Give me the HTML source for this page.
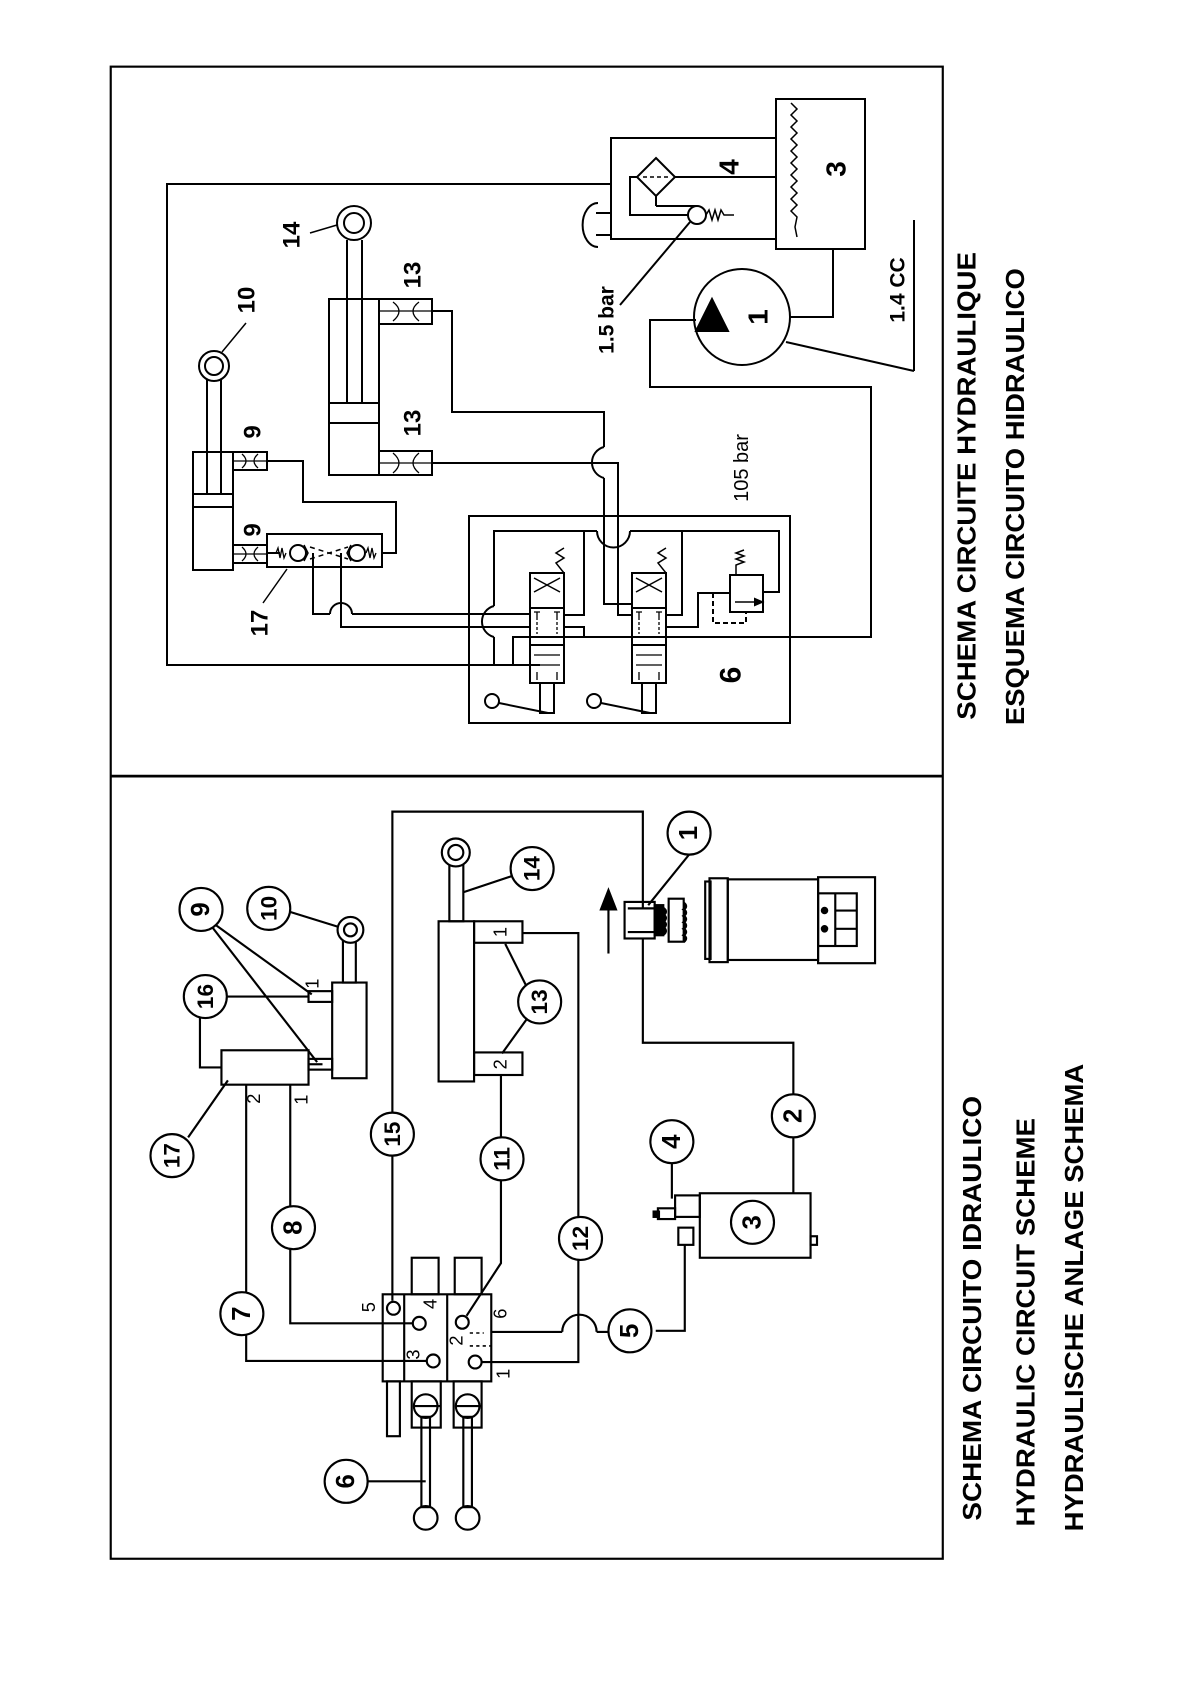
<!DOCTYPE html>
<html><head><meta charset="utf-8"><style>
html,body{margin:0;padding:0;background:#fff;}
svg{display:block;}
text{font-family:"Liberation Sans",sans-serif;}
</style></head><body>
<svg width="1191" height="1684" viewBox="0 0 1191 1684" xmlns="http://www.w3.org/2000/svg" fill="none" stroke="#000" stroke-width="2">
<g transform="scale(1.075)">
  <rect x="103" y="62" width="774" height="1388" stroke-width="2"/>
  <line x1="103" y1="722" x2="877" y2="722" stroke-width="2.5"/>
  <g fill="#000" stroke="none" font-weight="bold" font-size="24">
    <text transform="translate(900,452) rotate(-90)" text-anchor="middle" dominant-baseline="central" textLength="435" lengthAdjust="spacingAndGlyphs">SCHEMA CIRCUITE HYDRAULIQUE</text>
    <text transform="translate(945,462) rotate(-90)" text-anchor="middle" dominant-baseline="central" textLength="425" lengthAdjust="spacingAndGlyphs">ESQUEMA CIRCUITO HIDRAULICO</text>
    <text transform="translate(905,1217) rotate(-90)" text-anchor="middle" dominant-baseline="central" textLength="395" lengthAdjust="spacingAndGlyphs">SCHEMA CIRCUITO IDRAULICO</text>
    <text transform="translate(955,1230) rotate(-90)" text-anchor="middle" dominant-baseline="central" textLength="380" lengthAdjust="spacingAndGlyphs">HYDRAULIC CIRCUIT SCHEME</text>
    <text transform="translate(1000,1207) rotate(-90)" text-anchor="middle" dominant-baseline="central" textLength="435" lengthAdjust="spacingAndGlyphs">HYDRAULISCHE ANLAGE SCHEMA</text>
  </g>
  <polyline points="365,1210 365,755 598,755 598,845"/>
  <polyline points="598,873 598,970 738,970 738,1110"/>
  <rect x="581" y="839" width="28" height="34"/>
  <line x1="584" y1="845" x2="609" y2="845"/><line x1="584" y1="867" x2="609" y2="867"/>
  <rect x="609" y="842" width="8" height="28" fill="#000"/>
  <path d="M617,845 q4,3 0,6 q4,3 0,6 q4,3 0,6 q4,3 0,6" stroke-width="3"/>
  <rect x="622" y="836" width="14" height="40"/>
  <path d="M636,840 q4,3 0,6 q4,3 0,6 q4,3 0,6 q4,3 0,6 q4,3 0,6 q4,3 0,6" stroke-width="2.5"/>
  <rect x="656" y="820" width="5" height="72"/>
  <rect x="660" y="817" width="17" height="78"/>
  <rect x="677" y="818" width="84" height="75"/>
  <rect x="761" y="816" width="53" height="80"/>
  <rect x="761" y="831" width="36" height="49"/>
  <line x1="777" y1="831" x2="777" y2="880"/>
  <line x1="777" y1="847" x2="797" y2="847"/><line x1="777" y1="864" x2="797" y2="864"/>
  <circle cx="767" cy="847" r="2.5" fill="#000"/><circle cx="767" cy="864" r="2.5" fill="#000"/>
  <line x1="566" y1="887" x2="566" y2="845"/>
  <polygon points="566,828 559,846 573,846" fill="#000"/>
  <rect x="651" y="1110" width="103" height="60"/>
  <rect x="754" y="1150" width="6" height="8"/>
  <rect x="628" y="1112" width="23" height="20"/>
  <rect x="612" y="1124" width="16" height="10"/>
  <rect x="608" y="1127" width="5" height="5" fill="#000"/>
  <rect x="631" y="1142" width="14" height="16"/>
  <polyline points="637,1158 637,1238 610,1238"/>
  <line x1="625" y1="1082" x2="625" y2="1115"/>
  <line x1="641" y1="795" x2="603" y2="842"/>
  <rect x="356" y="1204" width="101" height="81"/>
  <line x1="376" y1="1204" x2="376" y2="1285"/><line x1="416" y1="1204" x2="416" y2="1285"/>
  <rect x="383" y="1170" width="25" height="34"/><rect x="423" y="1170" width="25" height="34"/>
  <rect x="383" y="1285" width="27" height="43"/><rect x="422" y="1285" width="26" height="43"/>
  <rect x="360" y="1285" width="12" height="51"/>
  <circle cx="396" cy="1308" r="11"/><circle cx="435" cy="1308" r="11"/>
  <line x1="385" y1="1308" x2="410" y2="1308"/><line x1="424" y1="1308" x2="448" y2="1308"/>
  <rect x="392" y="1318" width="8" height="84"/><rect x="431" y="1318" width="8" height="84"/>
  <circle cx="396" cy="1412" r="11"/><circle cx="435" cy="1412" r="11"/>
  <circle cx="366" cy="1217" r="6"/><circle cx="390" cy="1231" r="6"/><circle cx="403" cy="1266" r="6"/>
  <circle cx="430" cy="1230" r="6"/><circle cx="442" cy="1267" r="6"/>
  <line x1="437" y1="1240" x2="450" y2="1240" stroke-dasharray="3,3" stroke-width="1.5"/>
  <line x1="437" y1="1252" x2="457" y2="1252" stroke-dasharray="3,3" stroke-width="1.5"/>
  <g fill="#000" stroke="none" font-size="17">
    <text transform="translate(343,1216) rotate(-90)" text-anchor="middle" dominant-baseline="central">5</text>
    <text transform="translate(400,1213) rotate(-90)" text-anchor="middle" dominant-baseline="central">4</text>
    <text transform="translate(384,1260) rotate(-90)" text-anchor="middle" dominant-baseline="central">3</text>
    <text transform="translate(424,1247) rotate(-90)" text-anchor="middle" dominant-baseline="central">2</text>
    <text transform="translate(465,1222) rotate(-90)" text-anchor="middle" dominant-baseline="central">6</text>
    <text transform="translate(468,1278) rotate(-90)" text-anchor="middle" dominant-baseline="central">1</text>
    <text transform="translate(236,1022) rotate(-90)" text-anchor="middle" dominant-baseline="central">2</text>
    <text transform="translate(280,1023) rotate(-90)" text-anchor="middle" dominant-baseline="central">1</text>
    <text transform="translate(465,867) rotate(-90)" text-anchor="middle" dominant-baseline="central">1</text>
    <text transform="translate(465,990) rotate(-90)" text-anchor="middle" dominant-baseline="central">2</text>
    <text transform="translate(290,915) rotate(-90)" text-anchor="middle" dominant-baseline="central">1</text>
  </g>
  <polyline points="457,1239 523,1239"/>
  <path d="M523,1239 a16,16 0 0 1 32,0"/>
  <line x1="555" y1="1239" x2="566" y2="1239"/>
  <polyline points="448,1267 538,1267 538,868 486,868"/>
  <polyline points="434,1224 466,1175 466,1000"/>
  <polyline points="384,1231 270,1231 270,1009"/>
  <polyline points="397,1266 229,1266 229,1009"/>
  <rect x="408" y="857" width="33" height="149"/>
  <rect x="441" y="857" width="45" height="20"/><rect x="441" y="979" width="45" height="21"/>
  <rect x="418" y="803" width="13" height="54"/>
  <circle cx="424" cy="793" r="13" fill="#fff"/><circle cx="424" cy="793" r="7"/>
  <rect x="309" y="914" width="32" height="89"/>
  <rect x="319" y="874" width="12" height="40"/>
  <circle cx="326" cy="865" r="12" fill="#fff"/><circle cx="326" cy="865" r="6"/>
  <rect x="287" y="922" width="22" height="10"/><rect x="287" y="985" width="22" height="10"/>
  <rect x="206" y="977" width="81" height="32"/>
  <polyline points="287,990 300,990"/>
  <polyline points="206,993 186,993 186,946"/>
  <line x1="211" y1="927" x2="287" y2="927"/>
  <line x1="200" y1="860" x2="290" y2="925"/>
  <line x1="197" y1="862" x2="295" y2="988"/>
  <line x1="269" y1="848" x2="314" y2="862"/>
  <line x1="175" y1="1058" x2="212" y2="1005"/>
  <line x1="476" y1="815" x2="431" y2="830"/>
  <line x1="490" y1="918" x2="470" y2="878"/>
  <line x1="490" y1="948" x2="467" y2="980"/>
  <line x1="342" y1="1378" x2="396" y2="1378"/>
  <g stroke-width="2">
    <circle cx="641" cy="775" r="20" fill="#fff"/>
    <circle cx="738" cy="1038" r="20" fill="#fff"/>
    <circle cx="700" cy="1137" r="20" fill="#fff"/>
    <circle cx="625" cy="1062" r="20" fill="#fff"/>
    <circle cx="586" cy="1238" r="20" fill="#fff"/>
    <circle cx="322" cy="1378" r="20" fill="#fff"/>
    <circle cx="225" cy="1222" r="20" fill="#fff"/>
    <circle cx="273" cy="1142" r="20" fill="#fff"/>
    <circle cx="187" cy="846" r="20" fill="#fff"/>
    <circle cx="250" cy="845" r="20" fill="#fff"/>
    <circle cx="467" cy="1078" r="20" fill="#fff"/>
    <circle cx="540" cy="1152" r="20" fill="#fff"/>
    <circle cx="502" cy="932" r="20" fill="#fff"/>
    <circle cx="495" cy="808" r="20" fill="#fff"/>
    <circle cx="365" cy="1055" r="20" fill="#fff"/>
    <circle cx="191" cy="927" r="20" fill="#fff"/>
    <circle cx="160" cy="1075" r="20" fill="#fff"/>
  </g>
  <g fill="#000" stroke="none" font-weight="bold" font-size="24">
    <text transform="translate(641,775) rotate(-90)" text-anchor="middle" dominant-baseline="central">1</text>
    <text transform="translate(738,1038) rotate(-90)" text-anchor="middle" dominant-baseline="central">2</text>
    <text transform="translate(700,1137) rotate(-90)" text-anchor="middle" dominant-baseline="central">3</text>
    <text transform="translate(625,1062) rotate(-90)" text-anchor="middle" dominant-baseline="central">4</text>
    <text transform="translate(586,1238) rotate(-90)" text-anchor="middle" dominant-baseline="central">5</text>
    <text transform="translate(322,1378) rotate(-90)" text-anchor="middle" dominant-baseline="central">6</text>
    <text transform="translate(225,1222) rotate(-90)" text-anchor="middle" dominant-baseline="central">7</text>
    <text transform="translate(273,1142) rotate(-90)" text-anchor="middle" dominant-baseline="central">8</text>
    <text transform="translate(187,846) rotate(-90)" text-anchor="middle" dominant-baseline="central">9</text>
    <text transform="translate(250,845) rotate(-90)" text-anchor="middle" dominant-baseline="central" font-size="21">10</text>
    <text transform="translate(467,1078) rotate(-90)" text-anchor="middle" dominant-baseline="central" font-size="21">11</text>
    <text transform="translate(540,1152) rotate(-90)" text-anchor="middle" dominant-baseline="central" font-size="21">12</text>
    <text transform="translate(502,932) rotate(-90)" text-anchor="middle" dominant-baseline="central" font-size="21">13</text>
    <text transform="translate(495,808) rotate(-90)" text-anchor="middle" dominant-baseline="central" font-size="21">14</text>
    <text transform="translate(365,1055) rotate(-90)" text-anchor="middle" dominant-baseline="central" font-size="21">15</text>
    <text transform="translate(191,927) rotate(-90)" text-anchor="middle" dominant-baseline="central" font-size="21">16</text>
    <text transform="translate(160,1075) rotate(-90)" text-anchor="middle" dominant-baseline="central" font-size="21">17</text>
  </g>
</g>

<g stroke-width="2">
  <polyline points="611,184 167,184 167,665 540,665"/>
  <rect x="776" y="99" width="89" height="150"/>
  <rect x="611" y="138" width="165" height="101"/>
  <path d="M791,103 l6,6 l-6,6 l6,6 l-6,6 l6,6 l-6,6 l6,6 l-6,6 l6,6 l-6,6 l6,6 l-6,6 l6,6 l-6,6 l6,6 l-6,6 l6,6 l-6,6 l6,6 l-2,10 l2,10" stroke-width="1.5"/>
  <polygon points="656,158 675,177 656,196 637,177"/>
  <line x1="643" y1="177" x2="669" y2="177" stroke-dasharray="4,3" stroke-width="1.5"/>
  <polyline points="637,177 630,177 630,215 688,215"/>
  <circle cx="697" cy="215" r="9"/>
  <path d="M706,215 l3,-5 l3,10 l3,-10 l3,10 l3,-10 l3,5 l10,0" stroke-width="1.5"/>
  <line x1="656" y1="196" x2="656" y2="206"/>
  <line x1="656" y1="206" x2="697" y2="206"/>
  <line x1="776" y1="177" x2="675" y2="177"/>
  <path d="M598,203 a14,20 0 0 0 0,44" stroke-width="2"/>
  <line x1="596" y1="213" x2="611" y2="213"/><line x1="596" y1="235" x2="611" y2="235"/>
  <circle cx="742" cy="317" r="48"/>
  <polygon points="712,299 696,331 728,331" fill="#000"/>
  <polyline points="790,317 833,317 833,249"/>
  <polyline points="696,320 650,320 650,387 871,387 871,637 810,637"/>
  <line x1="914" y1="220" x2="914" y2="371"/>
  <line x1="914" y1="371" x2="786" y2="342"/>
  <line x1="620" y1="305" x2="690" y2="222"/>
  <g fill="#000" stroke="none" font-weight="bold">
    <text transform="translate(758,317) rotate(-90)" text-anchor="middle" dominant-baseline="central" font-size="28">1</text>
    <text transform="translate(729,167) rotate(-90)" text-anchor="middle" dominant-baseline="central" font-size="28">4</text>
    <text transform="translate(836,169) rotate(-90)" text-anchor="middle" dominant-baseline="central" font-size="28">3</text>
    <text transform="translate(898,290) rotate(-90)" text-anchor="middle" dominant-baseline="central" font-size="21">1.4 CC</text>
    <text transform="translate(607,320) rotate(-90)" text-anchor="middle" dominant-baseline="central" font-size="21">1.5 bar</text>
    <text transform="translate(731,675) rotate(-90)" text-anchor="middle" dominant-baseline="central" font-size="30">6</text>
    <text transform="translate(247,300) rotate(-90)" text-anchor="middle" dominant-baseline="central" font-size="24">10</text>
    <text transform="translate(292,235) rotate(-90)" text-anchor="middle" dominant-baseline="central" font-size="24">14</text>
    <text transform="translate(413,275) rotate(-90)" text-anchor="middle" dominant-baseline="central" font-size="24">13</text>
    <text transform="translate(413,423) rotate(-90)" text-anchor="middle" dominant-baseline="central" font-size="24">13</text>
    <text transform="translate(253,432) rotate(-90)" text-anchor="middle" dominant-baseline="central" font-size="24">9</text>
    <text transform="translate(253,530) rotate(-90)" text-anchor="middle" dominant-baseline="central" font-size="24">9</text>
    <text transform="translate(260,623) rotate(-90)" text-anchor="middle" dominant-baseline="central" font-size="24">17</text>
  </g>
  <text transform="translate(742,468) rotate(-90)" text-anchor="middle" dominant-baseline="central" font-size="20" fill="#000" stroke="none">105  bar</text>

  <rect x="193" y="452" width="40" height="118"/>
  <line x1="193" y1="494" x2="233" y2="494"/><line x1="193" y1="507" x2="233" y2="507"/>
  <line x1="207" y1="380" x2="207" y2="494"/><line x1="221" y1="380" x2="221" y2="494"/>
  <circle cx="214" cy="366" r="15"/><circle cx="214" cy="366" r="9"/>
  <line x1="222" y1="352" x2="246" y2="323" stroke-width="1.5"/>
  <rect x="233" y="452" width="34" height="18"/>
  <rect x="233" y="545" width="34" height="18"/>
  <path d="M242,454 q8,7 0,14 M258,454 q-8,7 0,14 M233,461 h34" stroke-width="1.3"/>
  <path d="M242,547 q8,7 0,14 M258,547 q-8,7 0,14 M233,554 h34" stroke-width="1.3"/>
  <rect x="267" y="534" width="115" height="33"/>
  <line x1="267" y1="553" x2="280" y2="553"/>
  <path d="M276,553 l2,-5 l2,10 l2,-10 l2,10 l2,-5" stroke-width="1.3"/>
  <circle cx="298" cy="553" r="8"/>
  <path d="M304,545 l4,8 l-4,8" stroke-width="1.5"/>
  <circle cx="357" cy="553" r="8"/>
  <path d="M351,545 l-4,8 l4,8" stroke-width="1.5"/>
  <path d="M366,553 l2,-5 l2,10 l2,-10 l2,10 l2,-5" stroke-width="1.3"/>
  <path d="M310,547 l38,12 M310,559 l38,-12" stroke-dasharray="5,4" stroke-width="1.5"/>
  <polyline points="267,461 303,461 303,502 396,502 396,553 382,553"/>
  <line x1="263" y1="603" x2="287" y2="569" stroke-width="1.5"/>
  <polyline points="313,553 313,614 330,614"/>
  <path d="M330,614 a11,11 0 0 1 22,0"/>
  <polyline points="352,614 478,614"/>
  <polyline points="341,553 341,627 478,627"/>
  <rect x="329" y="299" width="50" height="176"/>
  <line x1="329" y1="403" x2="379" y2="403"/><line x1="329" y1="423" x2="379" y2="423"/>
  <line x1="347" y1="240" x2="347" y2="403"/><line x1="362" y1="240" x2="362" y2="403"/>
  <circle cx="354" cy="223" r="17"/><circle cx="354" cy="223" r="10"/>
  <line x1="310" y1="233" x2="337" y2="225" stroke-width="1.5"/>
  <rect x="379" y="299" width="53" height="25"/>
  <rect x="379" y="451" width="53" height="24"/>
  <path d="M393,302 q12,9 0,19 M419,302 q-12,9 0,19 M379,311 h53" stroke-width="1.3"/>
  <path d="M393,453 q12,10 0,20 M419,453 q-12,10 0,20 M379,463 h53" stroke-width="1.3"/>
  <polyline points="432,311 452,311 452,412 604,412 604,447"/>
  <path d="M604,447 a16,16 0 0 0 0,31"/>
  <polyline points="604,478 604,604 632,604"/>
  <polyline points="432,463 618,463 618,615 632,615"/>

  <rect x="469" y="516" width="321" height="207"/>
  <polyline points="494,606 494,531 584,531 584,615 564,615"/>
  <path d="M494,606 a16,16 0 0 0 0,31"/>
  <polyline points="494,637 494,665 530,665"/>
  <polyline points="597,531 584,531"/>
  <path d="M597,531 a16,16 0 0 0 33,0"/>
  <polyline points="630,531 682,531 682,615 665,615"/>
  <polyline points="682,531 779,531 779,592 763,592"/>
  <polyline points="478,614 530,614"/>
  <polyline points="478,627 530,627"/>
  <polyline points="564,627 584,627 584,637"/>
  <polyline points="513,665 513,637 810,637"/>
  <polyline points="665,627 698,627 698,593 730,593"/>
  <polyline points="713,593 713,623 746,623 746,612" stroke-dasharray="5,3"/>
  <rect x="730" y="575" width="33" height="37"/>
  <line x1="735" y1="602" x2="760" y2="602" stroke-width="1.5"/>
  <polygon points="762,602 755,599 755,605" fill="#000"/>
  <path d="M736,575 l0,-10 l8,-3 l-8,-3 l8,-3 l-8,-3 l8,-3" stroke-width="1.5"/>
  <g id="sp">
    <rect x="530" y="573" width="34" height="110"/>
    <line x1="530" y1="608" x2="564" y2="608"/><line x1="530" y1="645" x2="564" y2="645"/>
    <path d="M534,578 l26,14 M560,578 l-26,14" stroke-width="1.5"/>
    <path d="M564,573 l-8,-10 l8,-5 l-8,-5 l8,-5" stroke-width="1.5"/>
    <path d="M537,612 v8 M534,612 h6 M557,612 v8 M554,612 h6" stroke-width="1.3"/>
    <path d="M537,622 v12 M557,622 v12" stroke-dasharray="3,2" stroke-width="1.3"/>
    <path d="M534,655 h26 M534,665 h26" stroke-width="1.3"/>
    <path d="M537,672 v8 M557,672 v8" stroke-width="1.3"/>
    <rect x="540" y="683" width="14" height="30"/>
    <circle cx="492" cy="701" r="7"/>
    <line x1="499" y1="703" x2="548" y2="713"/>
  </g>
  <use href="#sp" x="102"/>
</g>
</svg>
</body></html>
